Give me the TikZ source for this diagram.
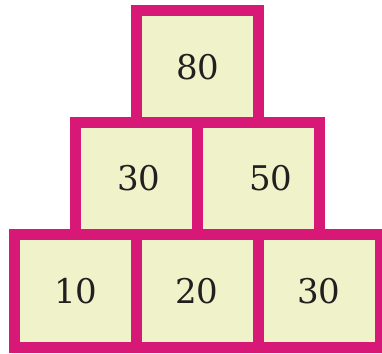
\documentclass[tikz,border=0pt]{standalone}
\usepackage{fontspec}
\newfontfamily\digitfont{DejaVu Serif}
\definecolor{rim}{RGB}{216,24,118}
\definecolor{pad}{RGB}{240,243,201}
\definecolor{ink}{RGB}{35,31,32}
\begin{document}
\begin{tikzpicture}[x=1pt,y=1pt,
  cell/.style={draw=rim,fill=pad,line width=11pt,rectangle,minimum width=122pt,minimum height=112pt,inner sep=0pt},
  num/.style={text=ink,font=\digitfont\fontsize{34}{34}\selectfont,inner sep=0pt}]
\useasboundingbox (0,0) rectangle (382,353);
% bottom row
\node[cell] (b1) at (75,62) {};
\node[cell] (b2) at (197,62) {};
\node[cell] (b3) at (319,62) {};
% middle row
\node[cell] (m1) at (136.5,174) {};
\node[cell] (m2) at (258.5,174) {};
% top
\node[cell] (t1) at (197.5,286.5) {};
% numbers
\node[num] (tb1) at (76,62) {10};
\node[num] (tb2) at (197,62) {20};
\node[num] (tb3) at (319,62) {30};
\node[num] (tm1) at (139,175) {30};
\node[num] (tm2) at (271,175) {50};
\node[num] (tt1) at (198,285.5) {80};
\end{tikzpicture}
\end{document}
